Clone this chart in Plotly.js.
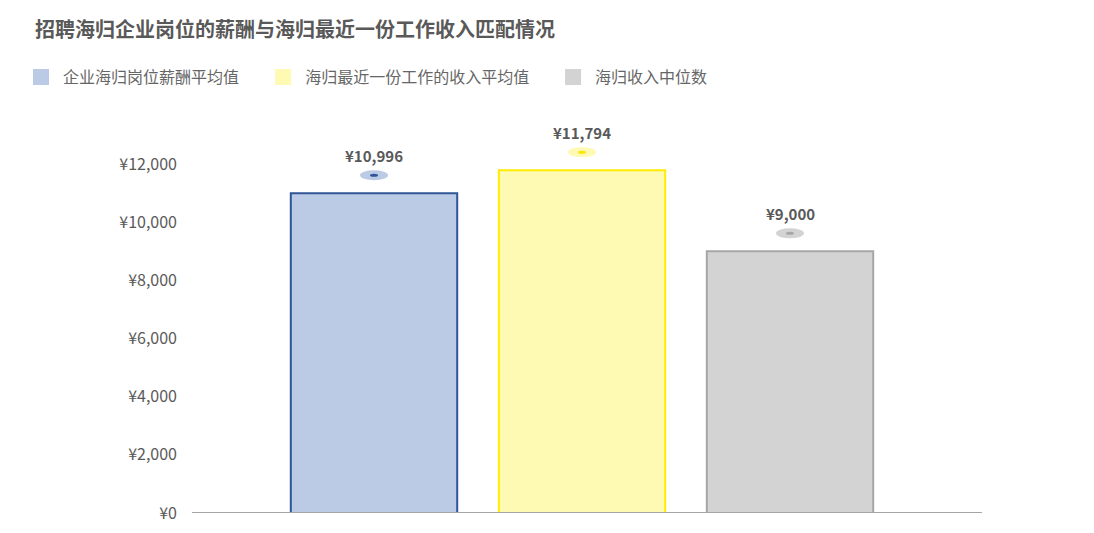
<!DOCTYPE html>
<html>
<head>
<meta charset="utf-8">
<script src="https://cdn.plot.ly/plotly-3.0.1.min.js"></script>
<style>
  body { margin: 0; background: #fff; }
  #chart { width: 1094px; height: 533px; }
</style>
</head>
<body>
<div id="chart"></div>
<script>
// series shown as three separate bars
const seriesNames = ["企业海归岗位薪酬平均值", "海归最近一份工作的收入平均值", "海归收入中位数"];
const seriesValues = [10996, 11794, 9000];
const fillColors = ["#bccbe5", "#fef9b3", "#d3d3d3"];
const lineColors = ["#2f5597", "#ffec00", "#a6a6a6"];
const dotColors = ["#2f5597", "#ffe600", "#a6a6a6"];
const tickVals = [0, 2000, 4000, 6000, 8000, 10000, 12000];
const tickText = ["¥0", "¥2,000", "¥4,000", "¥6,000", "¥8,000", "¥10,000", "¥12,000"];

const FONT = '"Noto Sans CJK SC", "Noto Sans", sans-serif';
const legendIds = ['legend', 'legend2', 'legend3'];
const legendX = [-0.219, 0.0875, 0.4545];

let traces = [];
seriesNames.forEach((name, i) => {
    traces.push({
        type: 'bar',
        x: [i],
        y: [seriesValues[i]],
        width: 0.8,
        marker: { color: fillColors[i], line: { color: lineColors[i], width: 2 } },
        showlegend: false,
        hoverinfo: 'skip'
    });
});
// legend-only markers, so the swatch is a plain square
seriesNames.forEach((name, i) => {
    traces.push({
        type: 'scatter',
        mode: 'markers',
        x: [null],
        y: [null],
        name: name,
        legend: legendIds[i],
        marker: { symbol: 'square', size: 17, color: fillColors[i] }
    });
});

// small ellipse + value label above each bar
let shapes = [];
let annotations = [];
seriesValues.forEach((v, i) => {
    shapes.push({
        type: 'circle', xref: 'x', yref: 'y',
        xsizemode: 'pixel', ysizemode: 'pixel',
        xanchor: i, yanchor: v,
        x0: -14, x1: 14, y0: 13, y1: 23,
        fillcolor: fillColors[i], line: { width: 0 }
    });
    shapes.push({
        type: 'circle', xref: 'x', yref: 'y',
        xsizemode: 'pixel', ysizemode: 'pixel',
        xanchor: i, yanchor: v,
        x0: -4, x1: 4, y0: 16.5, y1: 19.5,
        fillcolor: dotColors[i], line: { width: 0 }
    });
    annotations.push({
        x: i, y: v, xref: 'x', yref: 'y',
        text: '¥' + v.toLocaleString('en-US'),
        showarrow: false, yshift: 38,
        font: { family: FONT, size: 15, color: '#595959', weight: 'bold' }
    });
});

var layout = {
    width: 1094,
    height: 533,
    paper_bgcolor: '#fff',
    plot_bgcolor: '#fff',
    margin: { l: 192, r: 112, t: 106, b: 20 },
    title: {
        text: '<b>招聘海归企业岗位的薪酬与海归最近一份工作收入匹配情况</b>',
        x: 0.032, xanchor: 'left', y: 0.943, yanchor: 'middle',
        font: { family: FONT, size: 20, color: '#595959' }
    },
    xaxis: {
        range: [-0.875, 2.923],
        showticklabels: false,
        showgrid: false,
        zeroline: false,
        showline: false,
        fixedrange: true
    },
    yaxis: {
        range: [0, 14000],
        tickvals: tickVals,
        ticktext: tickText,
        showgrid: false,
        zeroline: false,
        showline: false,
        ticklabelstandoff: 14,
        tickfont: { family: FONT, size: 16, color: '#595959' },
        fixedrange: true
    },
    shapes: shapes.concat([{
        type: 'line', xref: 'paper', yref: 'y',
        x0: 0, x1: 1, y0: 0, y1: 0,
        line: { color: '#a6a6a6', width: 2 }
    }]),
    annotations: annotations,
    barmode: 'overlay',
    showlegend: true
};

legendIds.forEach((id, i) => {
    layout[id] = {
        orientation: 'h',
        x: legendX[i], xanchor: 'left',
        y: 1.071, yanchor: 'middle',
        itemwidth: 34,
        font: { family: FONT, size: 16, color: '#666' },
        bgcolor: 'rgba(0,0,0,0)'
    };
});

Plotly.newPlot('chart', traces, layout, { displayModeBar: false, staticPlot: true });
</script>
</body>
</html>
